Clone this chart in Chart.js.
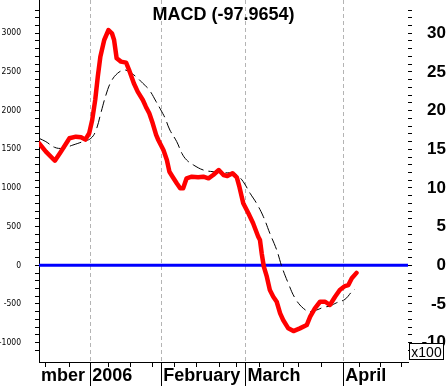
<!DOCTYPE html>
<html>
<head>
<meta charset="utf-8">
<title>MACD</title>
<script src="https://cdn.jsdelivr.net/npm/chart.js@4"></script>
<style>
    html, body { margin: 0; padding: 0; background: #fff; }
    canvas { display: block; }
</style>
</head>
<body>
<canvas id="macdChart" width="446" height="386"></canvas>
<script>
// DATA (x = trading day index from the left edge)
const macdDays = [0, 1.6, 3.7, 5.1, 7.1, 8.6, 9.8, 10.8, 11.7, 12.4, 13.1, 13.7, 14.3, 15.2, 16.2, 17.0, 17.5, 18.1, 19.1, 20.3,
    21.0, 22.1, 23.0, 24.2, 24.9, 25.7, 26.5, 27.3, 27.8, 28.4, 29.0, 29.8, 30.4, 31.2, 32.1, 32.9, 33.6, 34.4, 35.6, 37.1,
    38.3, 39.5, 40.6, 41.9, 43.0, 43.9, 45.1, 46.1, 46.7, 47.6, 48.8, 49.9, 51.1, 51.5, 51.9, 52.4, 53.1, 53.8, 54.6, 55.4,
    56.2, 56.9, 58.1, 59.3, 60.8, 62.4, 63.2, 64.3, 65.5, 66.7, 67.8, 69.0, 70.1, 71.3, 72.1, 72.9, 74.0];
const macdValues = [1578, 1469, 1352, 1469, 1642, 1663, 1655, 1625, 1707, 1879, 2137, 2439, 2697, 2913, 3042, 3000, 2913, 2676, 2633, 2620,
    2525, 2353, 2245, 2137, 2051, 1965, 1836, 1685, 1620, 1555, 1491, 1362, 1210, 1138, 1060, 996, 996, 1125, 1146, 1138,
    1146, 1125, 1168, 1232, 1168, 1155, 1190, 1138, 1017, 802, 672, 543, 370, 327, 155, -18, -147, -319, -406, -471,
    -621, -707, -815, -850, -815, -772, -664, -556, -471, -471, -513, -406, -319, -268, -255, -168, -98];

const signalDays = [0, 1.6, 3.6, 5.5, 7.9, 10.2, 12.1, 13.3, 14.4, 15.6, 16.8, 18.3, 19.9, 21.0, 22.6, 24.2, 25.7, 27.3, 28.4, 29.4,
    30.5, 32.1, 33.3, 34.4, 36.0, 38.3, 40.6, 43.0, 45.3, 46.4, 47.6, 49.2, 50.7, 52.3, 53.8, 55.4, 56.6, 58.1, 59.7, 61.6,
    63.2, 64.7, 66.3, 67.8, 69.4, 71.3, 72.9, 73.6];
const signalValues = [1642, 1599, 1526, 1513, 1555, 1599, 1642, 1749, 1965, 2202, 2374, 2482, 2525, 2503, 2439, 2353, 2267, 2116, 2008, 1901,
    1749, 1599, 1448, 1362, 1297, 1232, 1210, 1197, 1190, 1155, 1081, 931, 802, 628, 414, 198, -18, -233, -427, -556,
    -600, -578, -543, -526, -483, -440, -341, -310];

const monthStarts = [0, 11.96, 28.5, 48.1, 70.9];
const monthLabels = ['mber', '2006', 'February', 'March', 'April'];
const weekTicks = [1.6, 7.0, 16.3, 21.4, 26.5, 31.5, 36.8, 42.0, 46.1, 51.3, 56.9, 60.4, 65.9, 74.8, 79.5, 84.5];

const xMin = 0, xMax = 86;
const yMin = -1250, yMax = 3430;
const titleText = 'MACD (-97.9654)';
const scaleNote = 'x100';

function toPoints(xs, ys) { return xs.map((x, i) => ({ x: x, y: ys[i] })); }
function isMonth(v) { return monthStarts.indexOf(v) > 0; }

// month lines below the axis, title, x100 box
const extras = {
    id: 'extras',
    afterDraw(chart) {
        const ctx = chart.ctx;
        const xs = chart.scales.x;
        const area = chart.chartArea;
        ctx.save();
        ctx.strokeStyle = '#000';
        ctx.lineWidth = 1;
        monthStarts.forEach((m, i) => {
            if (i === 0) return;
            const px = Math.round(xs.getPixelForValue(m)) + 0.5;
            ctx.beginPath();
            ctx.moveTo(px, area.bottom);
            ctx.lineTo(px, chart.height);
            ctx.stroke();
        });

        ctx.fillStyle = '#000';
        ctx.font = 'bold 18px "Liberation Sans", Arial, sans-serif';
        ctx.textAlign = 'center';
        ctx.textBaseline = 'alphabetic';
        ctx.fillText(titleText, 223.5, 19.5);

        ctx.fillStyle = '#fff';
        ctx.fillRect(409.5, 343.5, 34, 16);
        ctx.strokeRect(409.5, 343.5, 34, 16);
        ctx.fillStyle = '#000';
        ctx.font = '14px "Liberation Sans", Arial, sans-serif';
        ctx.textAlign = 'center';
        ctx.fillText(scaleNote, 426.5, 356.5);
        ctx.restore();
    }
};

document.addEventListener('DOMContentLoaded', function () {
    new Chart(document.getElementById('macdChart').getContext('2d'), {
        type: 'line',
        data: {
            datasets: [
                { data: toPoints(macdDays, macdValues), borderColor: '#ff0000', borderWidth: 4.5, pointRadius: 0,
                  tension: 0, borderJoinStyle: 'round', borderCapStyle: 'round', order: 1 },
                { data: toPoints(signalDays, signalValues), borderColor: '#000', borderWidth: 1, borderDash: [12, 5],
                  pointRadius: 0, tension: 0.4, order: 2 },
                { data: [{ x: xMin, y: 0 }, { x: xMax, y: 0 }], borderColor: '#0000ff', borderWidth: 3,
                  pointRadius: 0, order: 3 }
            ]
        },
        options: {
            responsive: false,
            animation: false,
            layout: { padding: 0 },
            plugins: { legend: { display: false }, tooltip: { enabled: false }, title: { display: false } },
            scales: {
                x: {
                    type: 'linear', min: xMin, max: xMax,
                    afterBuildTicks: s => { s.ticks = weekTicks.concat(monthStarts).sort((a, b) => a - b).map(v => ({ value: v })); },
                    afterFit: s => { s.height = 24; s.paddingLeft = 0; s.paddingRight = 0; },
                    ticks: {
                        autoSkip: false, maxRotation: 0, minRotation: 0, align: 'start', labelOffset: 2, padding: -2,
                        color: '#000', font: { family: '"Liberation Sans", Arial, sans-serif', size: 18, weight: 'bold' },
                        callback: v => { const i = monthStarts.indexOf(v); return i >= 0 ? monthLabels[i] : ''; }
                    },
                    grid: {
                        drawOnChartArea: true, drawTicks: true, tickLength: 5,
                        color: c => (c.tick && isMonth(c.tick.value)) ? '#b4b4b4' : 'rgba(0,0,0,0)',
                        tickColor: c => (c.tick && c.tick.value === 0) ? 'rgba(0,0,0,0)' : '#000'
                    },
                    border: { display: true, color: '#000', width: 1, dash: [4, 3] }
                },
                y: {
                    position: 'left', min: yMin, max: yMax,
                    afterBuildTicks: s => { s.ticks = s.ticks.filter(t => t.value % 100 === 0); },
                    afterFit: s => { s.width = 39; s.paddingTop = 0; s.paddingBottom = 0; },
                    ticks: {
                        stepSize: 100, autoSkip: false, padding: 14, color: '#000',
                        font: { family: '"Liberation Sans Narrow", "DejaVu Sans Condensed", Arial, sans-serif', size: 8.5 },
                        callback: v => (v % 500 === 0 ? String(v) : '')
                    },
                    grid: { drawOnChartArea: false, drawTicks: true, tickLength: 4, tickColor: '#000' },
                    border: { display: true, color: '#000', width: 1 }
                },
                y2: {
                    position: 'right', min: yMin / 100, max: yMax / 100,
                    afterBuildTicks: s => { s.ticks = s.ticks.filter(t => Number.isInteger(t.value)); },
                    afterFit: s => { s.width = 38; s.paddingTop = 0; s.paddingBottom = 0; },
                    ticks: {
                        stepSize: 1, autoSkip: false, padding: 7, crossAlign: 'far', color: '#000',
                        font: { family: '"Liberation Sans", Arial, sans-serif', size: 17, weight: 'bold' },
                        callback: v => (v % 5 === 0 ? String(v) : '')
                    },
                    grid: { drawOnChartArea: false, drawTicks: true, tickLength: 4, tickColor: '#000' },
                    border: { display: false }
                }
            }
        },
        plugins: [extras]
    });
});
</script>
</body>
</html>
